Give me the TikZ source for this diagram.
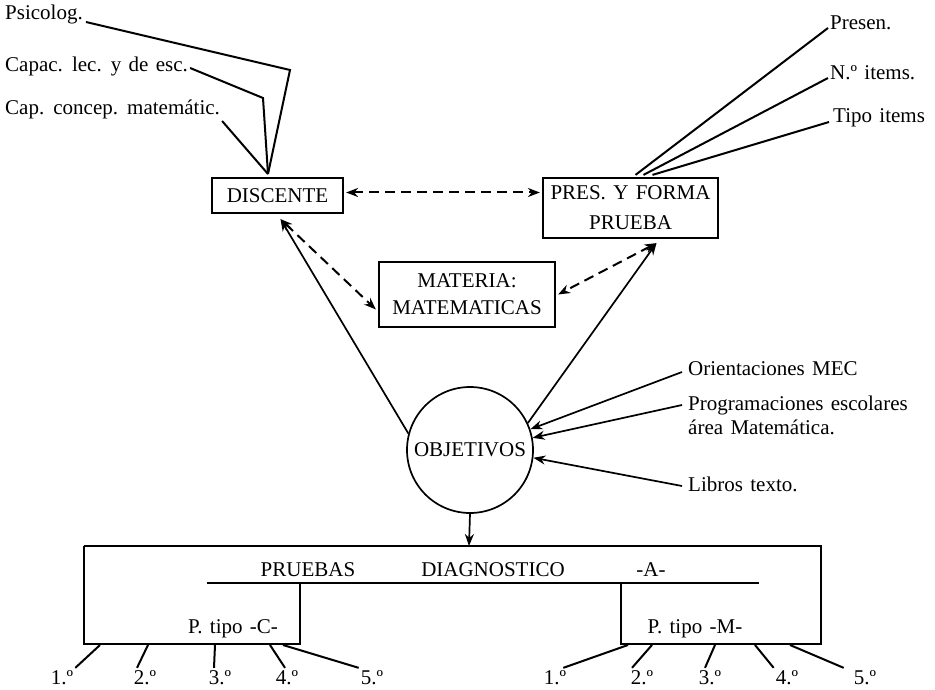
\documentclass[tikz,border=0pt]{standalone}
\usepackage{fontspec}
\setmainfont{Liberation Serif}[WordSpace=1.4]
\usetikzlibrary{arrows.meta,positioning}
\tikzset{
  lbl/.style={inner sep=0pt},
  num/.style={inner sep=2pt, anchor=base},
  box/.style={draw, line width=2.2pt, align=center, inner sep=0pt},
  lead/.style={line width=2pt},
  thin/.style={line width=1.7pt},
  tip/.style={-{Stealth[length=12pt,width=9pt]}},
  tips/.style={{Stealth[length=12pt,width=9pt]}-{Stealth[length=12pt,width=9pt]}},
  dsh/.style={line width=2pt, dash pattern=on 10pt off 6pt},
}

\begin{document}
\begin{tikzpicture}[x=1pt, y=-1pt, font=\fontsize{21}{27}\selectfont]
			%%%%% START %%%%%
			\useasboundingbox (0,0) rectangle (935,690);
			
			\node[box, minimum width=131pt, minimum height=35pt] (disc) at (277.5,195.5) {DISCENTE};
			\node[box, minimum width=175pt, minimum height=60pt, font=\fontsize{21}{30}\selectfont] (pres) at (630.5,208) {PRES. Y FORMA\\PRUEBA};
			\node[box, minimum width=176pt, minimum height=65pt] (mate) at (467,294.5) {MATERIA:\\MATEMATICAS};
			\node[draw, circle, line width=1.7pt, minimum size=126pt, inner sep=0pt] (obj) at (470,450) {OBJETIVOS};
			
			\node[lbl, anchor=base west] (psi) at (5,20) {Psicolog.};
			\node[lbl, anchor=base west] (capac) at (5,72) {Capac. lec. y de esc.};
			\node[lbl, anchor=base west] (capcon) at (5,115) {Cap. concep. matemátic.};
			\coordinate (dtop) at (268,174);
			
			\draw[lead] ([xshift=3pt,yshift=-2pt]psi.base east) -- (290,70) -- (dtop);
			\draw[lead] ([xshift=2pt,yshift=4pt]capac.base east) -- (263,98) -- (dtop);
			\draw[lead] ([xshift=2pt,yshift=-6pt]capcon.base east) -- (dtop);
			
			\node[lbl, anchor=base west] (presen) at (830,30) {Presen.};
			\node[lbl, anchor=base west] (nitems) at (830,80) {N.º items.};
			\node[lbl, anchor=base west] (titems) at (833,123) {Tipo items};
			
			\draw[lead] ([xshift=-2pt,yshift=2pt]presen.base west) -- ([xshift=5pt,yshift=2pt]pres.north);
			\draw[lead] ([xshift=-2pt,yshift=2pt]nitems.base west) -- ([xshift=13pt,yshift=2pt]pres.north);
			\draw[lead] ([xshift=-4pt,yshift=1pt]titems.base west) -- ([xshift=22pt,yshift=2pt]pres.north);
			
			\draw[dsh, tips] ([xshift=2pt,yshift=3pt]disc.east) -- ([xshift=-2pt,yshift=3pt]disc.east -| pres.west);
			\draw[dsh, tips] ([xshift=3pt,yshift=-5pt]disc.south) -- ([xshift=-2pt,yshift=-15pt]mate.west);
			\draw[dsh, tips] ([xshift=26pt,yshift=-4pt]pres.south) -- ([xshift=2pt]mate.east);
			
			\draw[thin, tip] (obj.165) -- ([xshift=3pt,yshift=-5pt]disc.south);
			\draw[thin, tip] (obj.25) -- ([xshift=26pt,yshift=-4pt]pres.south);
			
			\node[lbl, anchor=base west] (ori) at (688,375) {Orientaciones MEC};
			\node[lbl, anchor=base west] (prog) at (688,410) {Programaciones escolares};
			\node[lbl, anchor=base west] (area) at (688,434) {área Matemática.};
			\node[lbl, anchor=base west] (lib) at (688,491) {Libros texto.};
			
			\draw[thin, tip] ([xshift=-6pt,yshift=3pt]ori.base west) -- (obj.19);
			\draw[thin, tip] ([xshift=-6pt,yshift=5pt]prog.base west) -- (obj.11);
			\draw[thin, tip] ([xshift=-6pt,yshift=5pt]lib.base west) -- (obj.-7);
			
			\coordinate (ptop) at (469,546);
			\draw[thin, tip] (obj.south) -- (ptop);
			
			\draw[line width=2.2pt] (84,546) -- (821,546) -- (821,644) -- (621,644) -- (621,583);
			\draw[line width=2.2pt] (300,583) -- (300,644) -- (84,644) -- (84,546);
			\draw[line width=2.2pt] (207,583) -- (759,583);
			
			\node[lbl, anchor=base] (prue) at (308,576) {PRUEBAS};
			\node[lbl, anchor=base] (diag) at (493,576) {DIAGNOSTICO};
			\node[lbl, anchor=base] (pa) at (651,576) {-A-};
			\node[lbl, anchor=base] (ptc) at (233,633) {P. tipo -C-};
			\node[lbl, anchor=base] (ptm) at (695,633) {P. tipo -M-};
			
			\coordinate (f1) at (100,645);
			\coordinate (f2) at (148,645);
			\coordinate (f3) at (215,645);
			\coordinate (f4) at (270,645);
			\coordinate (f5) at (283,645);
			\node[num] (c1) at (62,684) {1.º};
			\node[num] (c2) at (145,684) {2.º};
			\node[num] (c3) at (220,684) {3.º};
			\node[num] (c4) at (287,684) {4.º};
			\node[num] (c5) at (372,684) {5.º};
			\draw[lead] (f1) -- (c1.north east);
			\draw[lead] (f2) -- ([xshift=-8pt]c2.north);
			\draw[lead] (f3) -- ([xshift=-6pt]c3.north);
			\draw[lead] (f4) -- ([xshift=-2pt]c4.north);
			\draw[lead] (f5) -- (c5.north west);
			
			\coordinate (g1) at (628,645);
			\coordinate (g2) at (652,645);
			\coordinate (g3) at (715,645);
			\coordinate (g4) at (755,645);
			\coordinate (g5) at (790,645);
			\node[num] (m1) at (555,684) {1.º};
			\node[num] (m2) at (642,684) {2.º};
			\node[num] (m3) at (710,684) {3.º};
			\node[num] (m4) at (787,684) {4.º};
			\node[num] (m5) at (865,684) {5.º};
			\draw[lead] (g1) -- ([xshift=-5pt]m1.north east);
			\draw[lead] (g2) -- ([xshift=-10pt]m2.north);
			\draw[lead] (g3) -- ([xshift=-5pt]m3.north);
			\draw[lead] (g4) -- (m4.north west);
			\draw[lead] (g5) -- ([xshift=-8pt]m5.north west);
			
			%%%%% END %%%%%
\end{tikzpicture}
\end{document}
